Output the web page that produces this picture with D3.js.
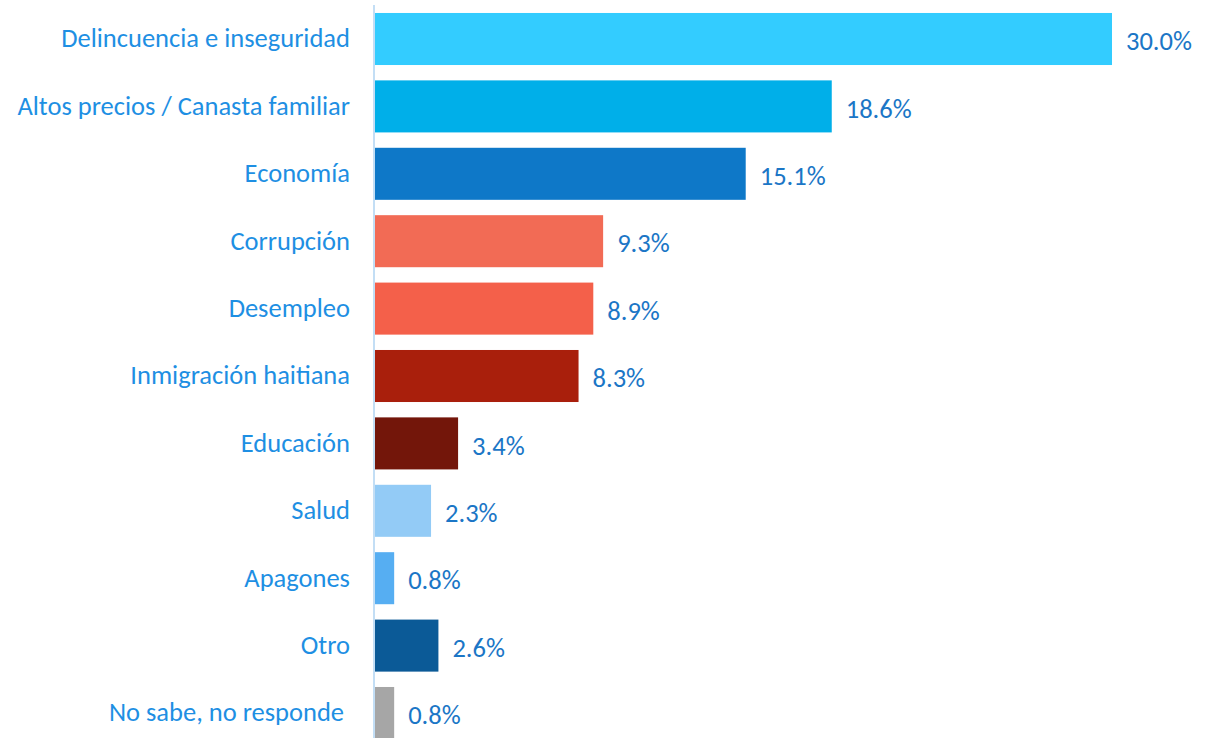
<!DOCTYPE html>
<html>
<head>
<meta charset="utf-8">
<script src="https://cdn.jsdelivr.net/npm/d3@7"></script>
<style>
  body { margin: 0; background: #fff; }
  svg { display: block; }
</style>
</head>
<body>
<div id="chart"></div>
<script>
let categories = [
  'Delincuencia e inseguridad',
  'Altos precios / Canasta familiar',
  'Economía',
  'Corrupción',
  'Desempleo',
  'Inmigración haitiana',
  'Educación',
  'Salud',
  'Apagones',
  'Otro',
  'No sabe, no responde '
]
let values = [30.0, 18.6, 15.1, 9.3, 8.9, 8.3, 3.4, 2.3, 0.8, 2.6, 0.8]
let barColors = [
  '#33ccff', '#00afe9', '#0e78c8', '#f26b55', '#f4604a', '#a91f0c',
  '#73160a', '#93cbf6', '#56aef2', '#0b5a97', '#a6a6a6'
]

let width = 1205
let height = 738
let axisX = 374
let fontFamily = 'Carlito, Calibri, "Open Sans", sans-serif'

let svg = d3.select('#chart')
  .append('svg')
  .attr('width', width)
  .attr('height', height)

let x = d3.scaleLinear()
  .domain([0, 30])
  .range([axisX + 0.5, 1112])

let y = d3.scaleBand()
  .domain(categories)
  .range([5.3, 5.3 + 11 * 67.4])
  .paddingInner(0.228)
  .paddingOuter(0.114)

let rows = categories.map((c, i) => ({ name: c, value: values[i], color: barColors[i] }))

svg.append('g')
  .selectAll('rect')
  .data(rows)
  .enter()
  .append('rect')
  .attr('x', x(0))
  .attr('y', d => y(d.name))
  .attr('width', d => x(d.value) - x(0))
  .attr('height', y.bandwidth())
  .attr('fill', d => d.color)

// category axis on the left
let yAxis = d3.axisLeft(y).tickSize(0).tickPadding(24)
let gy = svg.append('g')
  .attr('transform', 'translate(' + axisX + ',0)')
  .call(yAxis)
gy.select('.domain').remove()
gy.selectAll('text')
  .attr('fill', '#1e8fe3')
  .attr('dy', '0.32em')
  .style('white-space', 'pre')
  .style('font-family', fontFamily)
  .style('font-size', '26.5px')

svg.append('line')
  .attr('x1', axisX)
  .attr('x2', axisX)
  .attr('y1', 5)
  .attr('y2', height)
  .attr('stroke', '#c3def5')
  .attr('stroke-width', 2)

svg.append('g')
  .selectAll('text')
  .data(rows)
  .enter()
  .append('text')
  .attr('x', d => x(d.value) + 14)
  .attr('y', d => y(d.name) + y.bandwidth() / 2 + 2)
  .attr('dy', '0.35em')
  .attr('fill', '#1b76c6')
  .style('font-family', fontFamily)
  .style('font-size', '26.5px')
  .text(d => d.value.toFixed(1) + '%')
</script>
</body>
</html>
